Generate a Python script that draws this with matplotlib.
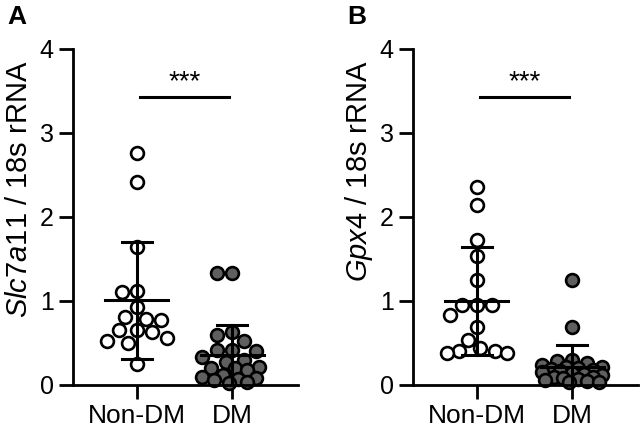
import numpy as np
import matplotlib
matplotlib.use("Agg")
import matplotlib.pyplot as plt

# Values (relative expression, per animal)
GROUPS = ["Non-DM", "DM"]

slc_nondm = [2.76, 2.42, 1.64, 1.12, 1.11, 0.93, 0.81, 0.79, 0.77, 0.65,
             0.65, 0.63, 0.56, 0.52, 0.50, 0.25]
slc_dm = [1.33, 1.33, 0.63, 0.60, 0.52, 0.42, 0.42, 0.40, 0.33, 0.30, 0.27,
          0.22, 0.20, 0.20, 0.18, 0.12, 0.10, 0.08, 0.07, 0.06, 0.04, 0.02]

gpx_nondm = [2.36, 2.14, 1.73, 1.54, 1.25, 0.95, 0.95, 0.95, 0.83, 0.69,
             0.54, 0.44, 0.41, 0.40, 0.38, 0.38]
gpx_dm = [1.25, 0.69, 0.30, 0.28, 0.26, 0.24, 0.22, 0.21, 0.20, 0.19, 0.18,
          0.17, 0.15, 0.14, 0.13, 0.12, 0.10, 0.09, 0.08, 0.07, 0.06, 0.05,
          0.04, 0.03]

SIG_LABEL = "***"
SIG_Y = 3.43

# Styling
FONT = "Liberation Sans"
plt.rcParams["font.family"] = FONT
plt.rcParams["mathtext.fontset"] = "custom"
plt.rcParams["mathtext.it"] = FONT + ":italic"
plt.rcParams["mathtext.rm"] = FONT

FIG_W, FIG_H, DPI = 6.4, 4.3, 100
XLIM = (-0.67, 1.69)
YLIM = (0, 4)
FILL = {"Non-DM": "white", "DM": "#5f5f5f"}
MARKER_PX = 15


def swarm_offsets(values, px_per_y, px_per_x, diam=MARKER_PX, max_half=30):
    """Simple beeswarm: push each point sideways until it no longer overlaps."""
    vals = np.asarray(values, dtype=float)
    order = np.argsort(-vals)
    steps = np.arange(0, max_half + 0.1, diam * 0.2)
    cands = sorted(set(np.concatenate([steps, -steps])), key=lambda c: (abs(c), c))
    placed = []
    offsets = np.zeros(len(vals))
    for i in order:
        y = vals[i] * px_per_y
        best, best_d = 0.0, -1.0
        for c in cands:
            d = min([np.hypot(c - px, y - py) for px, py in placed] or [1e9])
            if d >= diam * 0.95:
                best = c
                break
            if d > best_d:
                best, best_d = c, d
        placed.append((best, y))
        offsets[i] = best / px_per_x
    return offsets


def draw_panel(ax, groups, label_it, letter):
    bbox = ax.get_position()
    px_per_x = bbox.width * FIG_W * DPI / (XLIM[1] - XLIM[0])
    px_per_y = bbox.height * FIG_H * DPI / (YLIM[1] - YLIM[0])

    for xi, (name, vals) in enumerate(zip(GROUPS, groups)):
        offs = swarm_offsets(vals, px_per_y, px_per_x)
        ax.scatter(xi + offs, vals, s=85, facecolor=FILL[name],
                   edgecolor="black", linewidths=1.9, zorder=2, clip_on=False)
        m = np.mean(vals)
        sd = np.std(vals, ddof=1)
        ax.plot([xi - 0.33, xi + 0.33], [m, m], color="black", lw=2.2, zorder=3)
        ax.plot([xi - 0.16, xi + 0.16], [m + sd, m + sd], color="black", lw=2.2, zorder=3)
        ax.plot([xi - 0.16, xi + 0.16], [m - sd, m - sd], color="black", lw=2.2, zorder=3)
        ax.plot([xi, xi], [m - sd, m + sd], color="black", lw=2.2, zorder=3)

    # significance bar
    ax.plot([0.03, 0.97], [SIG_Y, SIG_Y], color="black", lw=2.2, clip_on=False)
    ax.text(0.5, 3.52, SIG_LABEL, ha="center", va="baseline", fontsize=20)

    ax.set_xlim(*XLIM)
    ax.set_ylim(*YLIM)
    ax.set_xticks(range(len(GROUPS)))
    ax.set_xticklabels(GROUPS)
    ax.set_yticks([0, 1, 2, 3, 4])
    for side in ["top", "right"]:
        ax.spines[side].set_visible(False)
    for side in ["left", "bottom"]:
        ax.spines[side].set_linewidth(2.0)
    ax.tick_params(axis="both", width=2.0, length=10, pad=4)
    ax.tick_params(axis="x", labelsize=19)
    ax.tick_params(axis="y", labelsize=18)

    fig = ax.figure
    fig.text(bbox.x0 - 54 / (FIG_W * DPI), 1 - 60 / (FIG_H * DPI),
             r"$\mathit{" + label_it + r"}$ / 18s rRNA",
             rotation=90, ha="center", va="top", fontsize=21)
    fig.text(bbox.x0 - 66 / (FIG_W * DPI), 1 - 5 / (FIG_H * DPI), letter,
             ha="left", va="top", fontsize=19, fontweight="bold")


fig = plt.figure(figsize=(FIG_W, FIG_H), dpi=DPI)
ax_a = fig.add_axes([73 / 640, 45 / 430, 225 / 640, 336 / 430])
ax_b = fig.add_axes([413 / 640, 45 / 430, 225 / 640, 336 / 430])

draw_panel(ax_a, [slc_nondm, slc_dm], "Slc7a11", "A")
draw_panel(ax_b, [gpx_nondm, gpx_dm], "Gpx4", "B")

fig.savefig("out.png", dpi=DPI)
